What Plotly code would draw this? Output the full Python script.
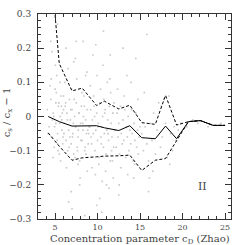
import plotly.graph_objects as go

# ---- data ----
bin_x = [4.2, 5.5, 7.0, 8.2, 9.9, 10.8, 12.5, 13.8, 15.2, 16.8, 18.0, 19.3, 20.7, 22.1, 23.6, 25.0]
median = [0.0, -0.015, -0.028, -0.028, -0.027, -0.033, -0.041, -0.027, -0.062, -0.065, -0.028, -0.065, -0.015, -0.012, -0.026, -0.026]
upper = [0.53, 0.155, 0.075, 0.083, 0.032, 0.045, 0.022, 0.033, -0.018, -0.023, 0.062, -0.025, -0.015, -0.012, -0.026, -0.026]
lower = [-0.048, -0.087, -0.128, -0.121, -0.118, -0.116, -0.115, -0.113, -0.158, -0.128, -0.123, -0.072, -0.015, -0.012, -0.026, -0.026]

pts_x = [
    4.1, 4.3, 4.5, 4.6, 4.8, 4.9, 5.0, 5.1, 5.2, 5.3, 5.4, 5.5, 5.6, 5.7, 5.8, 5.9, 6.0, 4.4, 4.7, 5.05,
    5.25, 5.45, 5.65, 5.85, 4.2, 4.55, 4.95, 5.15, 5.35, 5.75, 5.95, 4.65, 5.55, 4.85, 5.6, 5.3, 5.1, 4.75, 5.8, 6.0,
    6.1, 6.2, 6.3, 6.4, 6.5, 6.6, 6.7, 6.8, 6.9, 7.0, 7.1, 7.2, 7.3, 7.4, 7.5, 7.6, 7.7, 7.8, 7.9, 8.0,
    8.1, 8.2, 8.3, 8.4, 8.5, 8.6, 8.7, 8.8, 8.9, 9.0,
    6.15, 6.35, 6.55, 6.75, 6.95, 7.15, 7.35, 7.55, 7.75, 7.95, 8.15, 8.35, 8.55, 8.75, 8.95,
    6.05, 6.25, 6.45, 6.65, 6.85, 7.05, 7.25, 7.45, 7.65, 7.85, 8.05, 8.25, 8.45, 8.65, 8.85,
    6.3, 6.9, 7.4, 7.9, 8.3, 8.8, 6.6, 7.2, 7.7, 8.6,
    9.1, 9.2, 9.3, 9.4, 9.5, 9.6, 9.7, 9.8, 9.9, 10.0, 10.1, 10.2, 10.3, 10.4, 10.5, 10.6, 10.7, 10.8, 10.9, 11.0,
    11.1, 11.2, 11.3, 11.4, 11.5, 11.6, 11.7, 11.8, 11.9, 12.0,
    9.15, 9.35, 9.55, 9.75, 9.95, 10.15, 10.35, 10.55, 10.75, 10.95, 11.15, 11.35, 11.55, 11.75, 11.95,
    9.25, 9.65, 10.05, 10.45, 10.85, 11.25, 11.65, 9.45, 10.25, 10.65, 11.05, 11.45, 11.85, 10.7, 9.9,
    12.1, 12.2, 12.3, 12.4, 12.5, 12.6, 12.7, 12.8, 12.9, 13.0, 13.1, 13.2, 13.3, 13.4, 13.5, 13.6, 13.7, 13.8, 13.9, 14.0,
    14.1, 14.2, 14.3, 14.4, 14.5, 14.6, 14.7, 14.8, 14.9, 15.0,
    12.35, 12.75, 13.15, 13.55, 13.95, 14.35, 14.75, 12.55, 13.45, 14.25,
    15.2, 15.4, 15.6, 15.8, 16.0, 16.2, 16.4, 16.6, 16.8, 17.0, 17.2, 17.4, 17.6, 17.8, 18.0, 18.2, 18.4, 18.6, 18.8, 19.0,
    19.2, 19.5, 19.8, 15.5, 16.5, 17.5, 18.5, 16.1,
    20.5, 21.2, 21.8, 23.0, 24.5,
    15.8, 5.3, 7.5, 9.8, 11.5, 13.0, 14.5, 4.5,
    7.0, 10.5, 12.5, 16.0, 8.5,
]
pts_y = [
    0.02, -0.03, 0.05, -0.06, 0.01, -0.09, 0.08, -0.02, 0.12, -0.05, 0.03, -0.11, 0.0, 0.06, -0.04, -0.08, 0.02, 0.09, -0.01, 0.15,
    -0.07, 0.04, -0.13, 0.01, -0.05, 0.11, -0.03, 0.07, -0.1, 0.03, -0.06, 0.19, -0.02, 0.0, 0.1, -0.08, 0.04, -0.12, -0.01, 0.06,
    -0.02, 0.03, -0.07, 0.01, -0.10, -0.04, 0.05, -0.01, -0.08, 0.02, -0.05, -0.11, 0.0, -0.03, 0.04, -0.09, -0.06, 0.01, -0.13, -0.02,
    0.03, -0.07, -0.04, 0.06, -0.1, -0.01, -0.05, 0.02, -0.08, -0.03,
    0.1, -0.15, 0.14, -0.06, 0.08, -0.02, -0.12, 0.11, -0.04, -0.18, 0.07, 0.0, -0.09, 0.13, -0.05,
    -0.05, 0.04, -0.01, -0.09, 0.02, -0.06, 0.05, -0.03, -0.1, 0.01, -0.07, -0.02, 0.03, -0.11, -0.04,
    0.2, -0.22, 0.17, -0.2, 0.22, -0.16, -0.25, 0.16, -0.14, 0.12,
    -0.03, 0.02, -0.08, -0.01, -0.05, 0.03, -0.1, -0.04, 0.01, -0.07, -0.02, -0.12, 0.04, -0.06, -0.03, 0.0, -0.09, -0.05, 0.02, -0.11,
    -0.04, -0.01, -0.07, 0.03, -0.13, -0.02, -0.06, 0.01, -0.09, -0.04,
    0.09, -0.15, 0.06, -0.17, 0.12, -0.14, 0.08, -0.19, 0.05, -0.16, 0.1, -0.21, 0.07, -0.13, 0.04,
    -0.06, 0.0, -0.03, -0.08, 0.01, -0.05, -0.1, 0.18, -0.24, 0.15, -0.2, 0.11, -0.18, 0.25, -0.26,
    -0.04, -0.09, 0.01, -0.06, -0.02, -0.11, 0.03, -0.05, -0.08, -0.01, -0.07, 0.02, -0.12, -0.03, -0.06, 0.0, -0.1, -0.04, -0.08, 0.02,
    -0.05, -0.13, -0.02, -0.07, 0.01, -0.09, -0.04, -0.11, -0.06, -0.03,
    0.08, -0.15, 0.06, -0.17, 0.1, -0.14, 0.05, -0.2, 0.12, -0.18,
    -0.05, -0.1, -0.03, -0.08, -0.13, -0.02, -0.07, 0.01, -0.11, -0.04, 0.04, -0.09, -0.06, 0.05, -0.02, -0.12, 0.06, -0.05, -0.1, -0.03,
    -0.07, -0.04, -0.02, 0.07, -0.16, 0.03, -0.14, -0.18,
    -0.03, -0.01, -0.02, -0.03, -0.02,
    0.24, 0.27, 0.22, 0.21, 0.18, 0.2, 0.17, 0.22,
    -0.27, -0.28, -0.23, -0.22, -0.29,
]

x_ticks = [5, 10, 15, 20, 25]
y_ticks = [-0.3, -0.2, -0.1, 0, 0.1, 0.2, 0.3]
y_ticklabels = ["\u22120.3", "\u22120.2", "\u22120.1", "0", "0.1", "0.2", "0.3"]

FONT = "DejaVu Serif"
TXT = "#444444"

fig = go.Figure()
fig.add_trace(go.Scatter(x=pts_x, y=pts_y, mode="markers",
                         marker=dict(size=1.6, symbol="square", color="#c8c8c8", line=dict(width=0)),
                         hoverinfo="skip"))
fig.add_trace(go.Scatter(x=bin_x, y=upper, mode="lines",
                         line=dict(color="black", width=1, dash="3px,2px")))
fig.add_trace(go.Scatter(x=bin_x, y=lower, mode="lines",
                         line=dict(color="black", width=1, dash="3px,2px")))
fig.add_trace(go.Scatter(x=bin_x, y=median, mode="lines",
                         line=dict(color="black", width=1)))

axis_common = dict(showline=True, linecolor="#333333", linewidth=1, mirror="allticks",
                   ticks="inside", ticklen=6, tickcolor="#333333", tickwidth=1,
                   showgrid=False, zeroline=False, automargin=False)

fig.update_xaxes(range=[3, 25.7], tickvals=x_ticks, ticklabelstandoff=0,
                 tickfont=dict(family=FONT, size=8, color=TXT),
                 minor=dict(dtick=1, tick0=0, ticks="inside", ticklen=3, tickcolor="#333333", showgrid=False),
                 **axis_common)
fig.update_yaxes(range=[-0.3, 0.3], tickvals=y_ticks, ticktext=y_ticklabels, ticklabelstandoff=4,
                 tickfont=dict(family=FONT, size=9, color=TXT),
                 minor=dict(dtick=0.02, tick0=0, ticks="inside", ticklen=3, tickcolor="#333333", showgrid=False),
                 **axis_common)

fig.update_layout(
    width=245, height=245,
    margin=dict(l=38, r=14, t=14, b=26, autoexpand=False),
    paper_bgcolor="white", plot_bgcolor="white",
    showlegend=False,
    annotations=[
        dict(text="Concentration parameter c<sub>D</sub> (Zhao)", xref="paper", yref="paper",
             x=0.528, y=-0.1, xanchor="center", yanchor="middle", showarrow=False,
             font=dict(family=FONT, size=10, color=TXT)),
        dict(text="c<sub>s</sub> / c<sub>x</sub> \u2212 1", xref="paper", yref="paper",
             x=-0.161, y=0.52, xanchor="center", yanchor="middle", showarrow=False, textangle=-90,
             font=dict(family=FONT, size=10, color=TXT)),
        dict(text="II", xref="x", yref="y", x=22.3, y=-0.206, showarrow=False,
             font=dict(family=FONT, size=11, color=TXT)),
    ],
)

fig.write_html("out.html", config={"displayModeBar": False, "staticPlot": True},
               post_script="document.body.style.margin='0';document.body.style.padding='0';")
